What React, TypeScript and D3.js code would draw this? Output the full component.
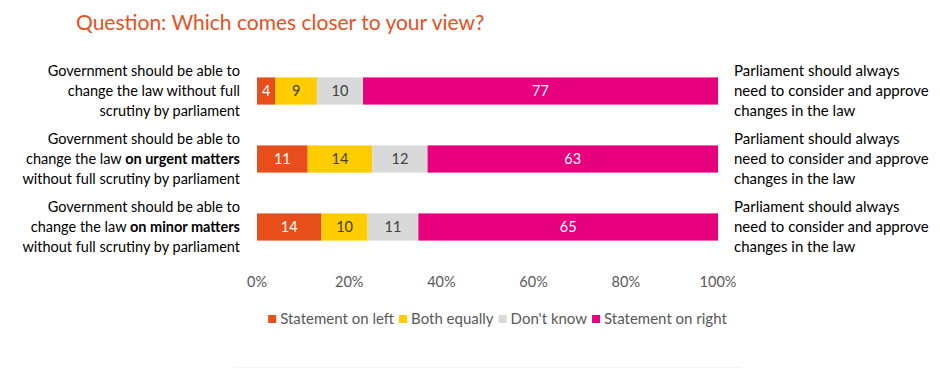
import React, { useEffect, useRef } from 'react';
import * as d3 from 'd3';

const width = 940;
const height = 369;
const font = 'Lato, "Liberation Sans", sans-serif';

const title = 'Question: Which comes closer to your view?';

const rows = ['all', 'urgent', 'minor'];
// left statement lines: [normal, bold] parts per line
const leftLines = [
  [['Government should be able to', ''], ['change the law without full', ''], ['scrutiny by parliament', '']],
  [['Government should be able to', ''], ['change the law ', 'on urgent matters'], ['without full scrutiny by parliament', '']],
  [['Government should be able to', ''], ['change the law ', 'on minor matters'], ['without full scrutiny by parliament', '']],
];
const rightLines = ['Parliament should always', 'need to consider and approve', 'changes in the law'];

const seriesNames = ['Statement on left', 'Both equally', "Don't know", 'Statement on right'];
const seriesColors = ['#E84E1B', '#FFCC00', '#D9D9D9', '#E6007E'];
const labelColors = ['#FFFFFF', '#404040', '#404040', '#FFFFFF'];

const statementLeft = [4, 11, 14];
const bothEqually = [9, 14, 10];
const dontKnow = [10, 12, 11];
const statementRight = [77, 63, 65];

const ticks = [0, 20, 40, 60, 80, 100];

const margin = { left: 257, right: 222 };

const App = () => {
  const legendRef = useRef<SVGGElement>(null);

  const x = d3.scaleLinear().domain([0, 100]).range([margin.left, width - margin.right]);
  const y = d3.scaleBand().domain(rows).range([57, 261]).paddingInner(0.6).paddingOuter(0.3);

  const table = rows.map((r, i) => ({
    row: r,
    values: [statementLeft[i], bothEqually[i], dontKnow[i], statementRight[i]],
  }));

  const stack = table.map(d => {
    let acc = 0;
    return d.values.map((v, k) => {
      const s = { x0: acc, x1: acc + v, v, k };
      acc += v;
      return s;
    });
  });

  useEffect(() => {
    const g = d3.select(legendRef.current);
    g.selectAll('*').remove();
    let cx = 0;
    const sq = 8;
    seriesNames.forEach((name, k) => {
      g.append('rect')
        .attr('x', cx)
        .attr('y', -sq / 2)
        .attr('width', sq)
        .attr('height', sq)
        .attr('fill', seriesColors[k]);
      const t = g.append('text')
        .attr('x', cx + sq + 4)
        .attr('y', 0)
        .attr('dy', '0.35em')
        .attr('font-family', font)
        .attr('font-size', 15)
        .attr('fill', '#595959')
        .text(name);
      const w = (t.node() as SVGTextElement).getComputedTextLength();
      cx += sq + 4 + w + 5;
    });
    const total = cx - 5;
    g.attr('transform', `translate(${497.5 - total / 2}, 319)`);
  }, []);

  return (
    <svg width={width} height={height} style={{ position: 'absolute', left: 0, top: 0, background: '#fff' }}>
      <text x={76} y={30} fontFamily={font} fontSize={21} fill="#E8501E">{title}</text>

      {stack.map((segs, i) => (
        <g key={rows[i]}>
          {segs.map(s => (
            <g key={s.k}>
              <rect
                x={x(s.x0)}
                y={y(rows[i])}
                width={x(s.x1) - x(s.x0)}
                height={y.bandwidth()}
                fill={seriesColors[s.k]}
              />
              <text
                x={(x(s.x0) + x(s.x1)) / 2}
                y={y(rows[i])! + y.bandwidth() / 2}
                dy="0.35em"
                textAnchor="middle"
                fontFamily={font}
                fontSize={14.5}
                fill={labelColors[s.k]}
              >
                {s.v}
              </text>
            </g>
          ))}
        </g>
      ))}

      {rows.map((r, i) => {
        const cy = y(r)! + y.bandwidth() / 2;
        return (
          <g key={r}>
            {leftLines[i].map((ln, j) => (
              <text
                key={j}
                x={240}
                y={cy + (j - 1) * 20}
                dy="0.35em"
                textAnchor="end"
                fontFamily={font}
                fontSize={14.5}
                fill="#000"
              >
                {ln[0]}
                {ln[1] && <tspan fontWeight="bold">{ln[1]}</tspan>}
              </text>
            ))}
            {rightLines.map((ln, j) => (
              <text
                key={j}
                x={734}
                y={cy + (j - 1) * 20}
                dy="0.35em"
                fontFamily={font}
                fontSize={15}
                fill="#000"
              >
                {ln}
              </text>
            ))}
          </g>
        );
      })}

      {ticks.map(t => (
        <text
          key={t}
          x={x(t)}
          y={282}
          dy="0.35em"
          textAnchor="middle"
          fontFamily={font}
          fontSize={14.5}
          fill="#595959"
        >
          {t}%
        </text>
      ))}

      <g ref={legendRef} />

      <line x1={233} x2={742} y1={367.5} y2={367.5} stroke="#F4F4F4" />
    </svg>
  );
};

export default App;
